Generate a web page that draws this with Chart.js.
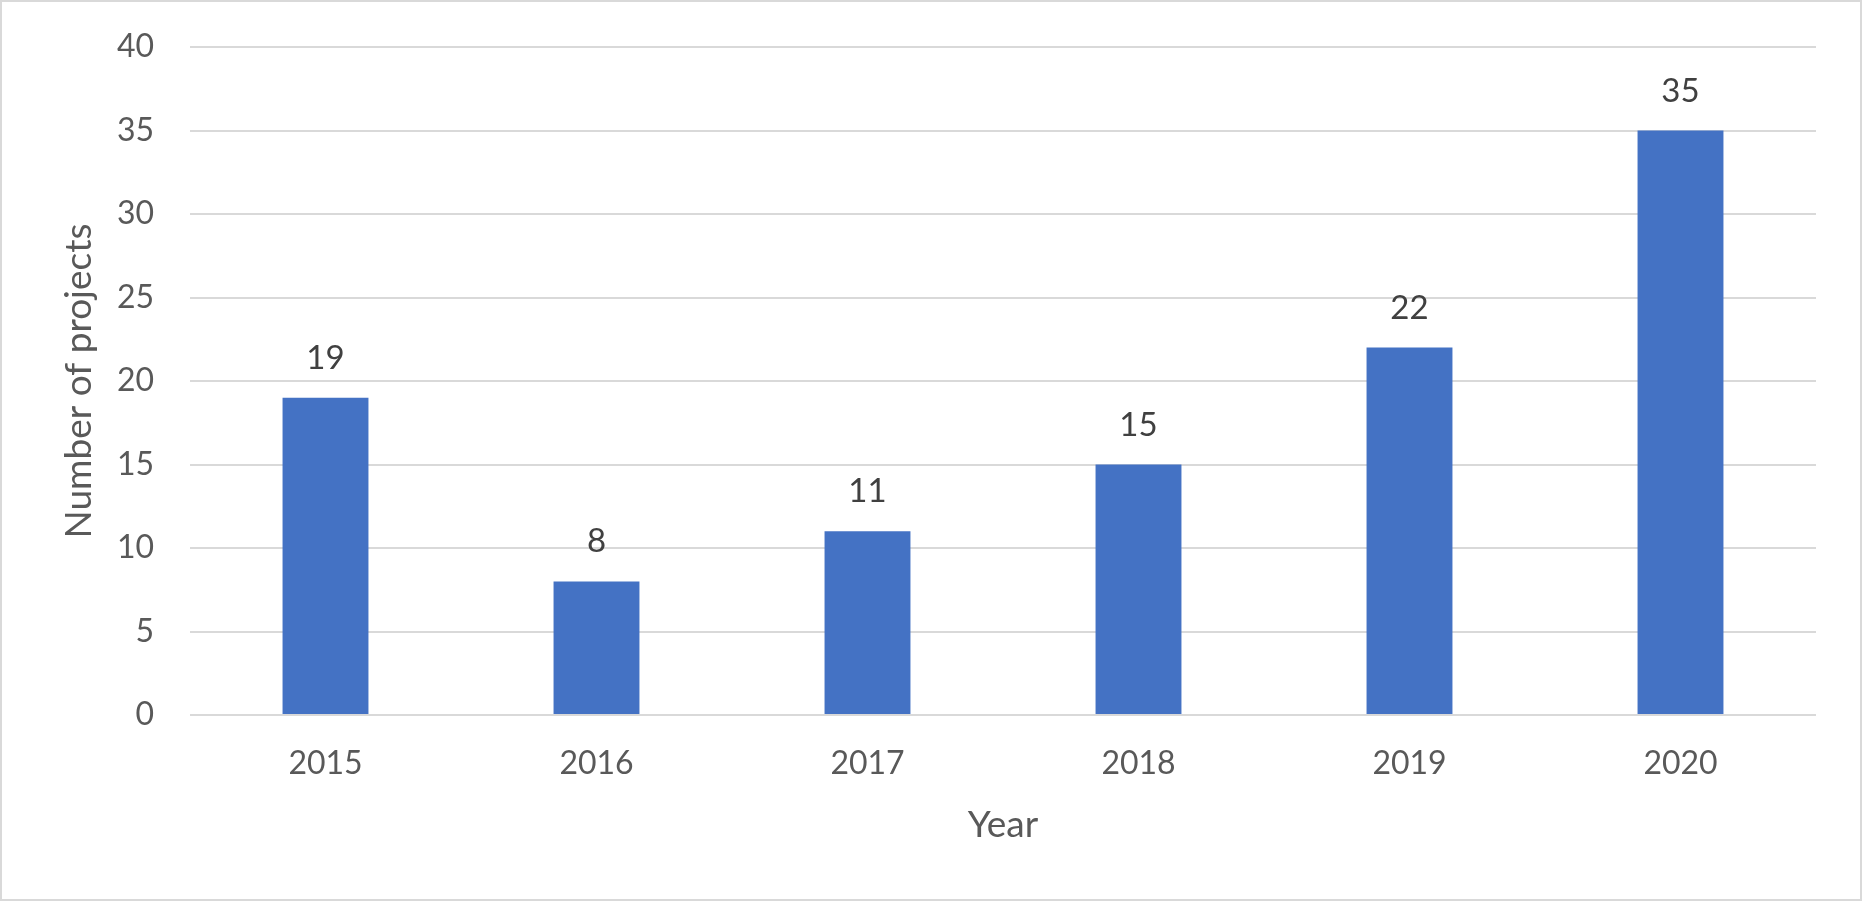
<!DOCTYPE html>
<html>
<head>
<meta charset="utf-8">
<script src="https://cdn.jsdelivr.net/npm/chart.js@4.4.1/dist/chart.umd.min.js"></script>
<style>
  html, body { margin: 0; padding: 0; background: #fff; }
  #wrap {
    position: absolute; left: 0; top: 0;
    width: 1862px; height: 901px;
    box-sizing: border-box;
    border: 2px solid #d9d9d9;
    background: #fff;
  }
  canvas { display: block; }
</style>
</head>
<body>
<div id="wrap"><canvas id="chart" width="1858" height="897"></canvas></div>
<script>
const years = ['2015', '2016', '2017', '2018', '2019', '2020'];
const projects = [19, 8, 11, 15, 22, 35];
const yTicks = [0, 5, 10, 15, 20, 25, 30, 35, 40];

const FONT = 'Lato, "Open Sans", sans-serif';

// draws the value above each bar, like Excel's data labels
const barLabels = {
  id: 'barLabels',
  afterDatasetsDraw(chart) {
    const ctx = chart.ctx;
    const meta = chart.getDatasetMeta(0);
    ctx.save();
    ctx.font = '33px ' + FONT;
    ctx.fillStyle = '#404040';
    ctx.textAlign = 'center';
    ctx.textBaseline = 'alphabetic';
    meta.data.forEach((bar, i) => {
      ctx.fillText(String(projects[i]), bar.x, bar.y - 29);
    });
    ctx.restore();
  }
};

const ctx = document.getElementById('chart').getContext('2d');
new Chart(ctx, {
  type: 'bar',
  data: {
    labels: years,
    datasets: [{
      label: 'Number of projects',
      data: projects,
      backgroundColor: '#4472C4',
      borderWidth: 0,
      categoryPercentage: 1,
      barPercentage: 0.317,
    }],
  },
  options: {
    responsive: false,
    animation: false,
    devicePixelRatio: 1,
    layout: { padding: { left: 0, right: 44, top: 45, bottom: 0 } },
    plugins: {
      legend: { display: false },
      tooltip: { enabled: false },
    },
    scales: {
      x: {
        grid: { display: false, drawTicks: false },
        border: { display: false },
        ticks: {
          color: '#595959',
          font: { family: FONT, size: 32 },
          padding: 29,
          maxRotation: 0,
        },
        title: {
          display: true,
          text: 'Year',
          color: '#595959',
          font: { family: FONT, size: 37 },
          padding: { top: 0, bottom: 52 },
        },
        afterFit(scale) { scale.height = 184; },
      },
      y: {
        min: 0,
        max: 40,
        grid: { color: '#d9d9d9', lineWidth: 2, drawTicks: false },
        border: { display: false },
        afterBuildTicks(scale) { scale.ticks = yTicks.map(v => ({ value: v })); },
        ticks: {
          color: '#595959',
          font: { family: FONT, size: 32 },
          padding: 36,
        },
        title: {
          display: true,
          text: 'Number of projects',
          color: '#595959',
          font: { family: FONT, size: 37 },
          padding: { top: 55, bottom: 0 },
        },
        afterFit(scale) {
          scale.width = 188;
          // tick padding is added to the top padding; keep the plot top where it is
          scale.paddingTop = 20;
          scale.paddingBottom = 20;
        },
      },
    },
  },
  plugins: [barLabels],
});
</script>
</body>
</html>
